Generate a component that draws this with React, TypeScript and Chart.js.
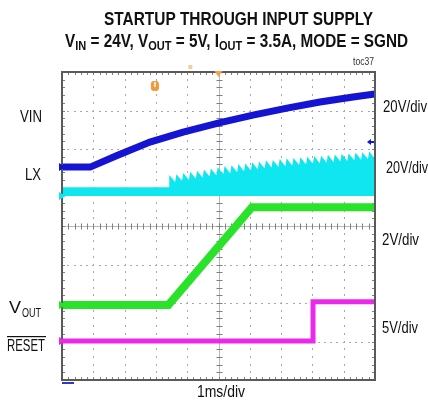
import React, { useEffect, useRef } from "react";
import { Chart, registerables } from "chart.js";

Chart.register(...registerables);

// Time axis: 1 ms/div, 10 divisions. Traces expressed in screen divisions (0..8).
const vinTimeMs = [0, 0.9, 1.76, 2.81, 3.87, 5.02, 6.1, 7.19, 8.24, 9.3, 10];
const vinDiv = [5.53, 5.53, 5.83, 6.18, 6.44, 6.68, 6.88, 7.06, 7.22, 7.35, 7.43];

const lxPeakTimeMs = [
  3.45, 3.67, 3.89, 4.11, 4.33, 4.55, 4.77, 4.99, 5.21, 5.43, 5.65, 5.87, 6.09, 6.31, 6.53,
  6.75, 6.97, 7.19, 7.41, 7.63, 7.85, 8.07, 8.29, 8.51, 8.73, 8.95, 9.17, 9.39, 9.61, 9.83,
];
const lxPeakDiv = [
  5.27, 5.3, 5.33, 5.36, 5.39, 5.42, 5.45, 5.48, 5.51, 5.53, 5.56, 5.58, 5.61, 5.63, 5.66,
  5.67, 5.69, 5.71, 5.72, 5.74, 5.75, 5.77, 5.78, 5.8, 5.81, 5.83, 5.84, 5.86, 5.87, 5.89,
];
const lxValleyTimeMs = [
  3.63, 3.85, 4.07, 4.29, 4.51, 4.73, 4.95, 5.17, 5.39, 5.61, 5.83, 6.05, 6.27, 6.49, 6.71,
  6.93, 7.15, 7.37, 7.59, 7.81, 8.03, 8.25, 8.47, 8.69, 8.91, 9.13, 9.35, 9.57, 9.79, 10.0,
];
const lxValleyDiv = [
  5.1, 5.13, 5.15, 5.18, 5.21, 5.24, 5.27, 5.3, 5.32, 5.35, 5.37, 5.4, 5.42, 5.45, 5.47,
  5.49, 5.5, 5.52, 5.54, 5.55, 5.57, 5.58, 5.6, 5.61, 5.63, 5.64, 5.66, 5.67, 5.69, 5.7,
];
const lxIdleTimeMs = [0, 3.42];
const lxIdleTopDiv = 4.99;
const lxGroundDiv = 4.78;

const voutTimeMs = [0, 3.4, 6.07, 10];
const voutDiv = [1.95, 1.95, 4.49, 4.49];

const resetTimeMs = [0, 8.02, 8.02, 10];
const resetDiv = [1.01, 1.01, 2.03, 2.03];

const cursorTimeMs = 2.97;
const triggerTimeMs = 5.0;
const vinTriggerLevelDiv = 6.18;

const titleLine1 = "STARTUP THROUGH INPUT SUPPLY";
const titleLine2: [string, boolean][] = [
  ["V", false], ["IN", true], [" = 24V, V", false], ["OUT", true], [" = 5V, I", false],
  ["OUT", true], [" = 3.5A, MODE = SGND", false],
];
const channelScales = ["20V/div", "20V/div", "2V/div", "5V/div"];
const timeScale = "1ms/div";
const figureId = "toc37";

const BLUE = "#1414d2";
const CYAN = "#10e6f0";
const GREEN = "#2ae22a";
const MAGENTA = "#ea2aea";
const NARROW = '"Liberation Sans Narrow", "Liberation Sans", Arial, sans-serif';

function pts(xs: number[], ys: number[]) {
  return xs.map((x, i) => ({ x, y: ys[i] }));
}

function buildLx() {
  const out: { x: number; y: number }[] = [];
  lxIdleTimeMs.forEach((t) => out.push({ x: t, y: lxIdleTopDiv }));
  lxPeakTimeMs.forEach((t, i) => {
    out.push({ x: t, y: lxPeakDiv[i] });
    out.push({ x: lxValleyTimeMs[i], y: lxValleyDiv[i] });
  });
  return out;
}

function fitText(ctx: CanvasRenderingContext2D, text: string, x: number, y: number, width: number, font: string) {
  ctx.font = font;
  const w = ctx.measureText(text).width;
  ctx.save();
  ctx.translate(x, y);
  ctx.scale(width / w, 1);
  ctx.fillText(text, 0, 0);
  ctx.restore();
}

const scopePlugin = {
  id: "scope",
  beforeDatasetsDraw(chart: any) {
    const ctx: CanvasRenderingContext2D = chart.ctx;
    const { left, right, top, bottom } = chart.chartArea;
    const xs = chart.scales.x;
    const ys = chart.scales.y;
    ctx.save();
    ctx.fillStyle = "#fff";
    ctx.fillRect(left, top, right - left, bottom - top);
    // dotted grid
    ctx.fillStyle = "#a8a8a8";
    for (let i = 1; i < 10; i++) {
      if (i === 5) continue;
      const px = Math.round(xs.getPixelForValue(i));
      for (let k = 1; k < 40; k++) {
        const py = Math.round(ys.getPixelForValue(k * 0.2));
        ctx.fillRect(px, py - 1, 1, 2);
      }
    }
    for (let j = 1; j < 8; j++) {
      if (j === 4) continue;
      const py = Math.round(ys.getPixelForValue(j));
      for (let k = 1; k < 50; k++) {
        const px = Math.round(xs.getPixelForValue(k * 0.2));
        ctx.fillRect(px - 1, py, 2, 1);
      }
    }
    // centre cross with minor ticks
    const cx = Math.round(xs.getPixelForValue(5)) + 0.5;
    const cy = Math.round(ys.getPixelForValue(4)) + 0.5;
    ctx.strokeStyle = "#b8b8b8";
    ctx.lineWidth = 1;
    ctx.beginPath();
    ctx.moveTo(left, cy); ctx.lineTo(right, cy);
    ctx.moveTo(cx, top); ctx.lineTo(cx, bottom);
    ctx.stroke();
    ctx.strokeStyle = "#808080";
    ctx.beginPath();
    for (let k = 1; k < 50; k++) {
      const px = Math.round(xs.getPixelForValue(k * 0.2)) + 0.5;
      ctx.moveTo(px, cy - 3); ctx.lineTo(px, cy + 3);
      ctx.moveTo(px, bottom); ctx.lineTo(px, bottom - 3);
      ctx.moveTo(px, top); ctx.lineTo(px, top + 3);
    }
    for (let k = 1; k < 40; k++) {
      const py = Math.round(ys.getPixelForValue(k * 0.2)) + 0.5;
      ctx.moveTo(cx - 3, py); ctx.lineTo(cx + 3, py);
      ctx.moveTo(left, py); ctx.lineTo(left + 3, py);
      ctx.moveTo(right, py); ctx.lineTo(right - 3, py);
    }
    ctx.stroke();
    ctx.restore();
  },
  afterDraw(chart: any) {
    const ctx: CanvasRenderingContext2D = chart.ctx;
    const { left, right, top, bottom } = chart.chartArea;
    const xs = chart.scales.x;
    const ys = chart.scales.y;
    ctx.save();
    // frame
    ctx.strokeStyle = "#5a5a5a";
    ctx.lineWidth = 2;
    ctx.strokeRect(left, top, right - left, bottom - top);

    // channel ground markers on the left edge
    const marks: [number, string][] = [
      [vinDiv[0], BLUE], [lxGroundDiv, CYAN], [voutDiv[0], GREEN], [resetDiv[0], MAGENTA],
    ];
    marks.forEach(([v, c]) => {
      const py = ys.getPixelForValue(v);
      ctx.fillStyle = c;
      ctx.beginPath();
      ctx.moveTo(left - 3, py - 4);
      ctx.lineTo(left + 4, py);
      ctx.lineTo(left - 3, py + 4);
      ctx.closePath();
      ctx.fill();
    });

    // VIN trigger level arrow on the right
    const ty = ys.getPixelForValue(vinTriggerLevelDiv);
    ctx.fillStyle = BLUE;
    ctx.beginPath();
    ctx.moveTo(right - 8, ty);
    ctx.lineTo(right - 4, ty - 3);
    ctx.lineTo(right - 4, ty + 3);
    ctx.closePath();
    ctx.fill();
    ctx.fillRect(right - 5, ty - 1, 4, 2);

    // cursor "U" marker
    const ux = xs.getPixelForValue(cursorTimeMs);
    ctx.fillStyle = "#f29a3a";
    ctx.beginPath();
    ctx.roundRect(ux - 4, top + 9, 8, 10, 3);
    ctx.fill();
    ctx.fillStyle = "#ffe8c8";
    ctx.fillRect(ux - 1, top + 10, 2, 5);
    // trigger position marker
    const tx = xs.getPixelForValue(triggerTimeMs);
    ctx.fillStyle = "#f0a050";
    ctx.beginPath();
    ctx.moveTo(tx - 4, top - 1);
    ctx.lineTo(tx + 4, top - 1);
    ctx.lineTo(tx, top + 5);
    ctx.closePath();
    ctx.fill();
    ctx.fillStyle = "rgba(240,170,90,0.6)";
    ctx.fillRect(xs.getPixelForValue(4.1) - 2, top - 7, 4, 4);

    // bottom channel indicator
    ctx.fillStyle = "#2a3cc8";
    ctx.fillRect(left, bottom + 2, 12, 2);

    // texts
    ctx.fillStyle = "#111";
    ctx.textBaseline = "alphabetic";
    ctx.textAlign = "left";
    fitText(ctx, titleLine1, 104, 25, 269, `bold 18px ${NARROW}`);

    // title line 2 with subscripts
    const mainFont = `bold 18px ${NARROW}`;
    const subFont = `bold 13px ${NARROW}`;
    let total = 0;
    const widths = titleLine2.map(([t, sub]) => {
      ctx.font = sub ? subFont : mainFont;
      const w = ctx.measureText(t).width;
      total += w;
      return w;
    });
    const sx = 343 / total;
    let cur = 65;
    titleLine2.forEach(([t, sub], i) => {
      ctx.font = sub ? subFont : mainFont;
      ctx.save();
      ctx.translate(cur, sub ? 50 : 47);
      ctx.scale(sx, 1);
      ctx.fillText(t, 0, 0);
      ctx.restore();
      cur += widths[i] * sx;
    });

    ctx.fillStyle = "#333";
    fitText(ctx, figureId, 353, 65, 21, `11px ${NARROW}`);

    ctx.fillStyle = "#111";
    const lab = `16px ${NARROW}`;
    fitText(ctx, "VIN", 20, 122, 22, lab);
    fitText(ctx, "LX", 25, 180, 16, lab);
    fitText(ctx, "V", 9, 313, 12, lab);
    fitText(ctx, "OUT", 22, 317, 19, `12px ${NARROW}`);
    fitText(ctx, "RESET", 7, 351, 38, lab);
    ctx.fillRect(7, 336, 39, 1.2);

    fitText(ctx, channelScales[0], 383, 112, 44, lab);
    fitText(ctx, channelScales[1], 386, 173, 42, lab);
    fitText(ctx, channelScales[2], 382, 245, 37, lab);
    fitText(ctx, channelScales[3], 382, 333, 36, lab);
    fitText(ctx, timeScale, 197, 397, 48, lab);
    ctx.restore();
  },
};

export default function App() {
  const ref = useRef<HTMLCanvasElement | null>(null);
  useEffect(() => {
    if (!ref.current) return;
    const chart = new Chart(ref.current, {
      type: "line",
      data: {
        datasets: [
          {
            label: "LX",
            data: buildLx(),
            borderColor: CYAN,
            backgroundColor: CYAN,
            borderWidth: 1.5,
            fill: { value: lxGroundDiv },
            pointRadius: 0,
          },
          {
            label: "VIN",
            data: pts(vinTimeMs, vinDiv),
            borderColor: BLUE,
            borderWidth: 7,
            pointRadius: 0,
            fill: false,
          },
          {
            label: "VOUT",
            data: pts(voutTimeMs, voutDiv),
            borderColor: GREEN,
            borderWidth: 8,
            pointRadius: 0,
            fill: false,
          },
          {
            label: "RESET",
            data: pts(resetTimeMs, resetDiv),
            borderColor: MAGENTA,
            borderWidth: 5,
            pointRadius: 0,
            fill: false,
          },
        ],
      },
      options: {
        animation: false,
        responsive: false,
        devicePixelRatio: 1,
        layout: { padding: { left: 62, top: 72, right: 53, bottom: 26 } },
        scales: {
          x: { type: "linear", min: 0, max: 10, display: false },
          y: { type: "linear", min: 0, max: 8, display: false },
        },
        elements: { line: { tension: 0 } },
        plugins: { legend: { display: false }, tooltip: { enabled: false } },
      },
      plugins: [scopePlugin],
    } as any);
    return () => chart.destroy();
  }, []);
  return (
    <div style={{ position: "fixed", left: 0, top: 0, width: 428, height: 406, background: "#fff" }}>
      <canvas ref={ref} width={428} height={406} style={{ display: "block" }} />
    </div>
  );
}
